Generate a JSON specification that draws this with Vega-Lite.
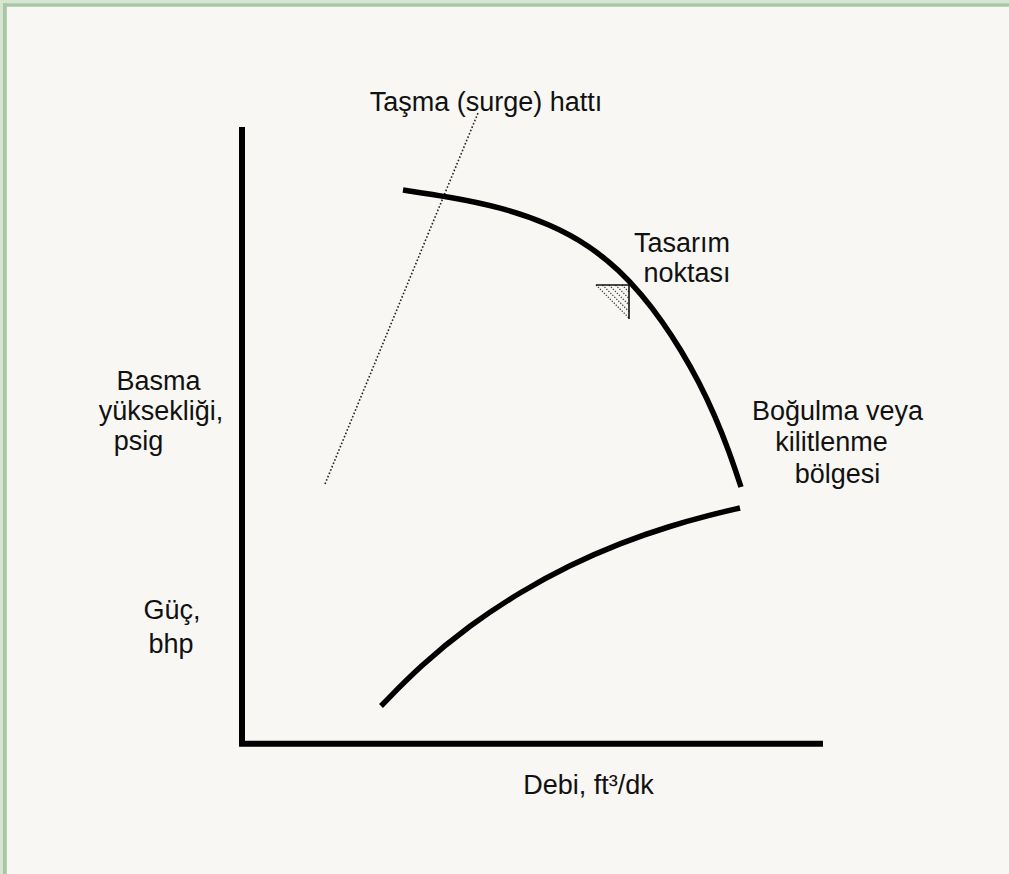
{
  "$schema": "https://vega.github.io/schema/vega-lite/v6.json",
  "width": 1009,
  "height": 874,
  "padding": 0,
  "autosize": {"type": "none"},
  "background": "#f8f7f3",
  "config": {"view": {"stroke": null}},
  "layer": [
    {
      "data": {"values": [
        {"x": 0, "x2": 1009, "y": 0, "y2": 3.3},
        {"x": 0, "x2": 3, "y": 0, "y2": 874}
      ]},
      "mark": {"type": "rect", "color": "#d6e6d3"},
      "encoding": {
        "x": {"field": "x", "type": "quantitative", "scale": {"domain": [0, 1009], "nice": false, "zero": false}, "axis": null},
        "x2": {"field": "x2"},
        "y": {"field": "y", "type": "quantitative", "scale": {"domain": [0, 874], "nice": false, "zero": false, "reverse": true}, "axis": null},
        "y2": {"field": "y2"}
      }
    },
    {
      "data": {"values": [
        {"x": 3, "x2": 1009, "y": 3.3, "y2": 6.8},
        {"x": 3, "x2": 6.8, "y": 3.3, "y2": 874}
      ]},
      "mark": {"type": "rect", "color": "#a8c8a5"},
      "encoding": {
        "x": {"field": "x", "type": "quantitative", "axis": null},
        "x2": {"field": "x2"},
        "y": {"field": "y", "type": "quantitative", "axis": null},
        "y2": {"field": "y2"}
      }
    },
    {
      "data": {"values": [
        {"s": "surge", "o": 0, "x": 325, "y": 484},
        {"s": "surge", "o": 1, "x": 478, "y": 113}
      ]},
      "mark": {"type": "line", "color": "#222", "strokeWidth": 1.6, "strokeDash": [1.6, 2]},
      "encoding": {
        "x": {"field": "x", "type": "quantitative", "axis": null},
        "y": {"field": "y", "type": "quantitative", "axis": null},
        "detail": {"field": "s"},
        "order": {"field": "o"}
      }
    },
    {
      "data": {"values": [
        {"s": "h0", "o": 0, "x": 596, "y": 285}, {"s": "h0", "o": 1, "x": 629, "y": 318},
        {"s": "h1", "o": 0, "x": 602.5, "y": 285}, {"s": "h1", "o": 1, "x": 629, "y": 311.5},
        {"s": "h2", "o": 0, "x": 609, "y": 285}, {"s": "h2", "o": 1, "x": 629, "y": 305},
        {"s": "h3", "o": 0, "x": 615.5, "y": 285}, {"s": "h3", "o": 1, "x": 629, "y": 298.5},
        {"s": "h4", "o": 0, "x": 622, "y": 285}, {"s": "h4", "o": 1, "x": 629, "y": 292}
      ]},
      "mark": {"type": "line", "color": "#444", "strokeWidth": 1.3, "strokeDash": [1.3, 1.5]},
      "encoding": {
        "x": {"field": "x", "type": "quantitative", "axis": null},
        "y": {"field": "y", "type": "quantitative", "axis": null},
        "detail": {"field": "s"},
        "order": {"field": "o"}
      }
    },
    {
      "data": {"values": [
        {"s": "m", "o": 0, "x": 596, "y": 285},
        {"s": "m", "o": 1, "x": 629, "y": 285},
        {"s": "m", "o": 2, "x": 629, "y": 319}
      ]},
      "mark": {"type": "line", "color": "#111", "strokeWidth": 1.6, "strokeJoin": "miter"},
      "encoding": {
        "x": {"field": "x", "type": "quantitative", "axis": null},
        "y": {"field": "y", "type": "quantitative", "axis": null},
        "detail": {"field": "s"},
        "order": {"field": "o"}
      }
    },
    {
      "data": {"values": [
        {"s": "ax", "o": 0, "x": 242, "y": 127},
        {"s": "ax", "o": 1, "x": 242, "y": 743.7},
        {"s": "ax", "o": 2, "x": 823, "y": 743.7}
      ]},
      "mark": {"type": "line", "color": "#000", "strokeWidth": 6, "strokeJoin": "miter", "strokeCap": "butt"},
      "encoding": {
        "x": {"field": "x", "type": "quantitative", "axis": null},
        "y": {"field": "y", "type": "quantitative", "axis": null},
        "detail": {"field": "s"},
        "order": {"field": "o"}
      }
    },
    {
      "data": {"values": [
        {"s": "head", "o": 0, "x": 403, "y": 190},
        {"s": "head", "o": 1, "x": 450, "y": 197},
        {"s": "head", "o": 2, "x": 500, "y": 207},
        {"s": "head", "o": 3, "x": 550, "y": 224},
        {"s": "head", "o": 4, "x": 590, "y": 246},
        {"s": "head", "o": 5, "x": 620, "y": 271},
        {"s": "head", "o": 6, "x": 642, "y": 295},
        {"s": "head", "o": 7, "x": 662, "y": 321},
        {"s": "head", "o": 8, "x": 681, "y": 350},
        {"s": "head", "o": 9, "x": 699, "y": 382},
        {"s": "head", "o": 10, "x": 715, "y": 416},
        {"s": "head", "o": 11, "x": 729, "y": 451},
        {"s": "head", "o": 12, "x": 741, "y": 487},
        {"s": "power", "o": 0, "x": 381, "y": 706},
        {"s": "power", "o": 1, "x": 420, "y": 666},
        {"s": "power", "o": 2, "x": 470, "y": 625},
        {"s": "power", "o": 3, "x": 520, "y": 592},
        {"s": "power", "o": 4, "x": 570, "y": 565},
        {"s": "power", "o": 5, "x": 620, "y": 543},
        {"s": "power", "o": 6, "x": 670, "y": 526},
        {"s": "power", "o": 7, "x": 710, "y": 515},
        {"s": "power", "o": 8, "x": 740, "y": 508}
      ]},
      "mark": {"type": "line", "color": "#000", "strokeWidth": 5.5, "strokeCap": "butt", "interpolate": "basis"},
      "encoding": {
        "x": {"field": "x", "type": "quantitative", "axis": null},
        "y": {"field": "y", "type": "quantitative", "axis": null},
        "detail": {"field": "s"},
        "order": {"field": "o"}
      }
    },
    {
      "data": {"values": [
        {"t": "Taşma (surge) hattı", "x": 486, "y": 103},
        {"t": "Tasarım", "x": 682, "y": 244},
        {"t": "noktası", "x": 687, "y": 274},
        {"t": "Basma", "x": 158.5, "y": 382},
        {"t": "yüksekliği,", "x": 161, "y": 412},
        {"t": "psig", "x": 138.5, "y": 442},
        {"t": "Boğulma veya", "x": 837.5, "y": 412},
        {"t": "kilitlenme", "x": 831.5, "y": 443},
        {"t": "bölgesi", "x": 837.5, "y": 475},
        {"t": "Güç,", "x": 172, "y": 611},
        {"t": "bhp", "x": 171, "y": 645},
        {"t": "Debi, ft³/dk", "x": 588.5, "y": 786}
      ]},
      "mark": {"type": "text", "font": "Liberation Sans", "fontSize": 27, "color": "#111", "baseline": "middle", "align": "center"},
      "encoding": {
        "x": {"field": "x", "type": "quantitative", "axis": null},
        "y": {"field": "y", "type": "quantitative", "axis": null},
        "text": {"field": "t"}
      }
    }
  ]
}
